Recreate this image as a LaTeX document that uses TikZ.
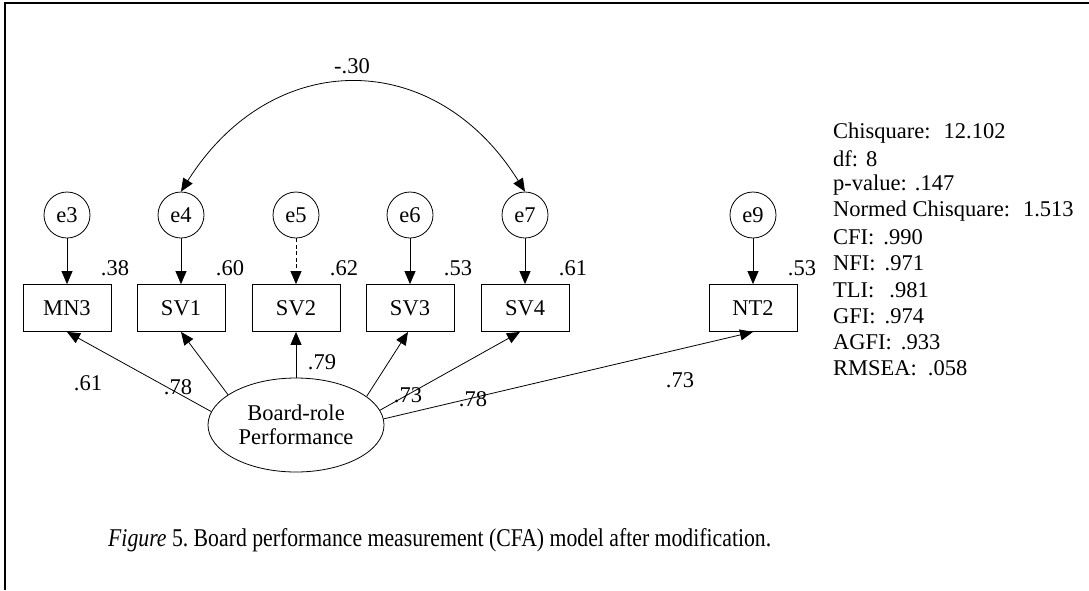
\documentclass[tikz,border=0pt]{standalone}
\usepackage{fontspec}
\setmainfont{Liberation Serif}
\usetikzlibrary{arrows.meta,shapes.geometric}
\begin{document}
\begin{tikzpicture}[x=1pt,y=-1pt,
  every node/.style={font=\fontsize{22.5}{24}\selectfont},
  err/.style={circle,draw,line width=0.8pt,minimum size=46pt,inner sep=0pt},
  obs/.style={rectangle,draw,line width=0.8pt,minimum width=88pt,minimum height=47pt,inner sep=0pt},
  lat/.style={ellipse,draw,line width=0.8pt,minimum width=176pt,minimum height=94pt,inner sep=0pt,align=center},
  tip/.tip={Triangle[length=13pt,width=11pt]},
  arr/.style={line width=0.8pt,-tip},
  dbl/.style={line width=0.8pt,tip-tip},
  val/.style={inner sep=0pt},
  stat/.style={inner sep=0pt,anchor=west},
]
\useasboundingbox (0,0) rectangle (1089,590);
\draw[line width=1.5pt] (5,590) -- (5,3) -- (1089,3);

% error terms
\node[err] (e3) at (67,215) {e3};
\node[err] (e4) at (181,215) {e4};
\node[err] (e5) at (296,215) {e5};
\node[err] (e6) at (410,215) {e6};
\node[err] (e7) at (525,215) {e7};
\node[err] (e9) at (753,215) {e9};

% observed variables
\node[obs] (MN3) at (67,308) {MN3};
\node[obs] (SV1) at (181,308) {SV1};
\node[obs] (SV2) at (296,308) {SV2};
\node[obs] (SV3) at (410,308) {SV3};
\node[obs] (SV4) at (525,308) {SV4};
\node[obs] (NT2) at (753,308) {NT2};

% latent
\node[lat] (L) at (296,425) {Board-role\\Performance};

% error arrows
\draw[arr] (e3) -- (MN3);
\draw[arr] (e4) -- (SV1);
\draw[arr,dash pattern=on 4pt off 2.5pt] (e5) -- (SV2);
\draw[arr] (e6) -- (SV3);
\draw[arr] (e7) -- (SV4);
\draw[arr] (e9) -- (NT2);

% covariance
\draw[dbl] (e4.north) .. controls (272,47) and (435,47) .. (e7.north);
\node[val] (cov) at (352,66) {-.30};

% loadings
\draw[arr] (L.171) -- (MN3.south);
\draw[arr] (L.156) -- (SV1.south);
\draw[arr] (L.90) -- (SV2.south);
\draw[arr] (L.22) -- ([xshift=-2pt]SV3.south);
\draw[arr] (L.10) -- ([xshift=-5pt]SV4.south);
\draw[arr] (L.4) -- (NT2.south);

% squared multiple correlations
\node[val] (r3) at (115,268) {.38};
\node[val] (r4) at (230,268) {.60};
\node[val] (r5) at (344,268) {.62};
\node[val] (r6) at (458,268) {.53};
\node[val] (r7) at (573,268) {.61};
\node[val] (r9) at (802,268) {.53};

% loading values
\node[val] (l1) at (88,383) {.61};
\node[val] (l2) at (178,387) {.78};
\node[val] (l3) at (322,362) {.79};
\node[val] (l4) at (408,395) {.73};
\node[val] (l5) at (473,399) {.78};
\node[val] (l6) at (680,380) {.73};

% fit statistics
\node[stat] (s1) at (833,133) {Chisquare:\hspace{13pt}12.102};
\node[stat] (s2) at (833,159) {df:\hspace{8pt}8};
\node[stat] (s3) at (833,185) {p-value:\hspace{8pt}.147};
\node[stat] (s4) at (833,211) {Normed Chisquare:\hspace{13pt}1.513};
\node[stat] (s5) at (833,237) {CFI:\hspace{9pt}.990};
\node[stat] (s6) at (833,263) {NFI:\hspace{9pt}.971};
\node[stat] (s7) at (833,290) {TLI:\hspace{15pt}.981};
\node[stat] (s8) at (833,316) {GFI:\hspace{9pt}.974};
\node[stat] (s9) at (833,342) {AGFI:\hspace{9pt}.933};
\node[stat] (s10) at (833,368) {RMSEA:\hspace{11pt}.058};

% caption
\node[stat] (cap) at (108,540) {\resizebox{663pt}{18pt}{\fontsize{23}{26}\selectfont\textit{Figure} 5.\ Board performance measurement (CFA) model after modification.}};
\end{tikzpicture}
\end{document}
